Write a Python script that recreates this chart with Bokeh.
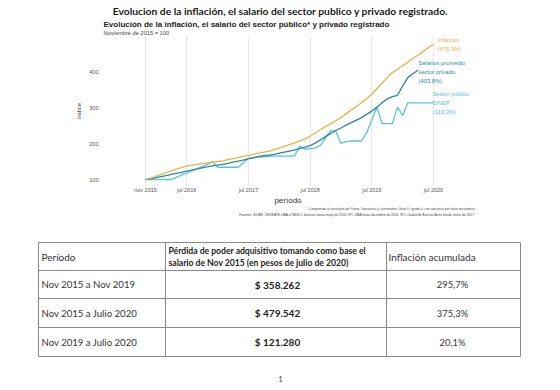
from bokeh.plotting import figure
from bokeh.models import Label, FixedTicker, Range1d, ColumnDataSource
from bokeh.layouts import column
from bokeh.core.properties import value
from bokeh.embed import file_html
from bokeh.resources import INLINE

# ---------------- data ----------------
tick_months = [0, 8, 20, 32, 44, 56]
tick_labels = ["nov 2015", "jul 2016", "jul 2017", "jul 2018", "jul 2019", "jul 2020"]
y_ticks = [100, 200, 300, 400]

inflacion = [100, 104, 109, 114, 119, 124, 129, 133, 137, 140, 142, 144, 146, 148, 150,
             152, 155, 158, 161, 164, 167, 170, 173, 176, 179, 183, 187, 192, 197, 202,
             207, 213, 220, 229, 238, 247, 255, 263, 272, 283, 293, 303, 313, 325, 337,
             352, 368, 383, 397, 406, 416, 426, 436, 446, 456, 466, 475]
privado = [100, 102, 105, 108, 111, 114, 117, 120, 123, 126, 129, 132, 135, 138, 140,
           142, 145, 148, 151, 154, 158, 161, 164, 166, 168, 170, 173, 176, 179, 182,
           186, 190, 194, 201, 210, 219, 228, 236, 243, 251, 258, 265, 272, 281, 290,
           301, 313, 324, 330, 334, 360, 383, 394, 404]
publico = [100, 100, 100, 100, 100, 100, 106, 112, 118, 124, 130, 136, 142, 149, 134,
           134, 134, 134, 134, 146, 158, 160, 162, 163, 164, 165, 165, 165, 165, 166,
           193, 184, 186, 188, 195, 215, 235, 235, 200, 205, 207, 207, 207, 230, 265,
           301, 255, 255, 255, 301, 277, 313, 313, 313, 313, 313, 313]

serie_etiquetas = [["Inflación", "(475.3%)"],
                   ["Salarios promedio", "sector privado", "(403.8%)"],
                   ["Sector público", "SINEP", "(313.3%)"]]

titulo = "Evolucion de la inflación, el salario del sector publico y privado registrado."
subtitulo = "Evolución de la inflación, el salario del sector público* y privado registrado"
base = "Noviembre de 2015 = 100"
notas = ["* Comprende al escalafón de Planta Transitoria y Contratados. Nivel D, grado 0, con adicional por título secundario.",
         "Fuentes: SIUBE, CEDEATE-UBA e INDEC. Salarios hasta mayo de 2020. IPC GBA hasta diciembre de 2016. IPC Ciudad de Buenos Aires desde enero de 2017."]

periodos = ["Nov 2015 a Nov 2019", "Nov 2015 a Julio 2020", "Nov 2019 a Julio 2020"]
perdida = ["$ 358.262", "$ 479.542", "$ 121.280"]
infl_acum = ["295,7%", "375,3%", "20,1%"]
encabezados = ["Período",
               ["Pérdida de poder adquisitivo tomando como base el",
                "salario de Nov 2015 (en pesos de julio de 2020)"],
               "Inflación acumulada"]

# ---------------- styles ----------------
C_INF = "#E8B14B"
C_PRIV = "#2A8A9C"
C_PUB = "#5DC0D8"
W = 560


def mx(xp):
    return (xp - 145.0) / 5.143


def vy(yp):
    return 100.0 + (179.0 - yp) / 0.36


def blank(height, y0):
    f = figure(width=W, height=height, output_backend="svg", toolbar_location=None,
               x_range=Range1d(0, W), y_range=Range1d(y0 + height, y0),
               x_axis_type=None, y_axis_type=None, min_border=0)
    f.outline_line_color = None
    f.grid.visible = False
    f.frame_align = False
    return f


# ---------------- header ----------------
h = blank(36, 0)
h.text(x=[280], y=[10], text=[titulo], text_font=value("Lato"),
       text_font_style="bold", text_font_size="10.3px", text_color="#1a1a1a",
       text_align="center", text_baseline="middle")
h.text(x=[103], y=[24.3], text=[subtitulo], text_font=value("Liberation Sans"),
       text_font_style="bold", text_font_size="8px", text_color="#222222",
       text_align="left", text_baseline="middle")
h.text(x=[103], y=[32.2], text=[base], text_font=value("Liberation Sans"),
       text_font_size="5.7px", text_color="#444444", text_align="left", text_baseline="middle")

# ---------------- chart ----------------
CHART_TOP, FRAME_BOTTOM, CHART_BOTTOM = 36, 185, 207
p = figure(width=W, height=CHART_BOTTOM - CHART_TOP, output_backend="svg", toolbar_location=None,
           x_range=Range1d(mx(100), mx(475)), y_range=Range1d(vy(FRAME_BOTTOM), vy(CHART_TOP)),
           min_border=0, min_border_left=100, min_border_right=85,
           min_border_top=0, min_border_bottom=CHART_BOTTOM - FRAME_BOTTOM)
p.frame_align = False
p.outline_line_color = None
p.ygrid.visible = False
p.xgrid.ticker = FixedTicker(ticks=tick_months)
p.xgrid.grid_line_color = "#e8e8e8"
p.xgrid.grid_line_width = 1

p.xaxis.ticker = FixedTicker(ticks=tick_months)
p.xaxis.major_label_overrides = {m: l for m, l in zip(tick_months, tick_labels)}
p.yaxis.ticker = FixedTicker(ticks=y_ticks)
for ax in (p.xaxis, p.yaxis):
    ax.axis_line_color = None
    ax.major_tick_line_color = None
    ax.minor_tick_line_color = None
    ax.major_tick_out = 0
    ax.major_tick_in = 0
    ax.major_label_text_font_size = "5.5px"
    ax.major_label_text_color = "#555555"
    ax.major_label_text_font = "Liberation Sans"
    ax.axis_label_text_font = "Liberation Sans"
    ax.axis_label_text_font_style = "normal"
    ax.axis_label_text_color = "#333333"
p.xaxis.axis_label = "período"
p.xaxis.axis_label_text_font_size = "8px"
p.xaxis.major_label_standoff = 1
p.xaxis.axis_label_standoff = 0
p.yaxis.axis_label = "índice"
p.yaxis.axis_label_text_font_size = "6px"
p.yaxis.major_label_standoff = 2
p.yaxis.axis_label_standoff = 4

src_inf = ColumnDataSource(dict(x=list(range(len(inflacion))), y=inflacion))
src_priv = ColumnDataSource(dict(x=list(range(len(privado))), y=privado))
src_pub = ColumnDataSource(dict(x=list(range(len(publico))), y=publico))
p.line("x", "y", source=src_pub, color=C_PUB, line_width=1.3)
p.line("x", "y", source=src_priv, color=C_PRIV, line_width=1.3)
p.line("x", "y", source=src_inf, color=C_INF, line_width=1.3)

label_pos = [(437, 39.5), (418, 62), (432, 93)]
for (xp, y0), lines, col in zip(label_pos, serie_etiquetas, [C_INF, C_PRIV, C_PUB]):
    for i, t_ in enumerate(lines):
        p.add_layout(Label(x=mx(xp), y=vy(y0 + i * 9.3), text=t_, text_color=col,
                           text_font_size="5.8px", text_font="Liberation Sans",
                           text_baseline="middle", text_align="left"))

# ---------------- footnotes + table ----------------
t = blank(390 - CHART_BOTTOM, CHART_BOTTOM)
t.text(x=[475, 475], y=[208.5, 214.5], text=notas, text_font=value("Liberation Sans"),
       text_font_size="3.3px", text_color="#444444", text_align="right", text_baseline="middle")

row_y = [242, 270, 298, 327, 356]
col_x = [38, 165, 386, 520]
t.segment(x0=[col_x[0]] * len(row_y), x1=[col_x[-1]] * len(row_y), y0=row_y, y1=row_y,
          color="#8a8a8a", line_width=1)
t.segment(x0=col_x, x1=col_x, y0=[row_y[0]] * len(col_x), y1=[row_y[-1]] * len(col_x),
          color="#8a8a8a", line_width=1)

FONT = value("Lato")
t.text(x=[41], y=[256], text=[encabezados[0]], text_font_size="10px", text_color="#333333",
       text_baseline="middle", text_font=FONT)
t.text(x=[168, 168], y=[250, 262], text=encabezados[1], text_font_size="8.6px", text_color="#222222",
       text_font_style="bold", text_baseline="middle", text_font=FONT)
t.text(x=[388], y=[256], text=[encabezados[2]], text_font_size="10px", text_color="#333333",
       text_baseline="middle", text_font=FONT)
ry = [284, 312.5, 341.5]
t.text(x=[41] * 3, y=ry, text=periodos, text_font_size="9.6px", text_color="#333333",
       text_baseline="middle", text_font=FONT)
t.text(x=[277] * 3, y=ry, text=perdida, text_font_size="10px", text_color="#222222",
       text_font_style="bold", text_align="center", text_baseline="middle", text_font=FONT)
t.text(x=[452] * 3, y=ry, text=infl_acum, text_font_size="9.4px", text_color="#333333",
       text_align="center", text_baseline="middle", text_font=FONT)
t.text(x=[280], y=[378], text=["1"], text_font_size="7px", text_color="#333333",
       text_align="center", text_baseline="middle", text_font=FONT)

layout = column(h, p, t, spacing=0)
open("out.html", "w").write(file_html(layout, INLINE))
